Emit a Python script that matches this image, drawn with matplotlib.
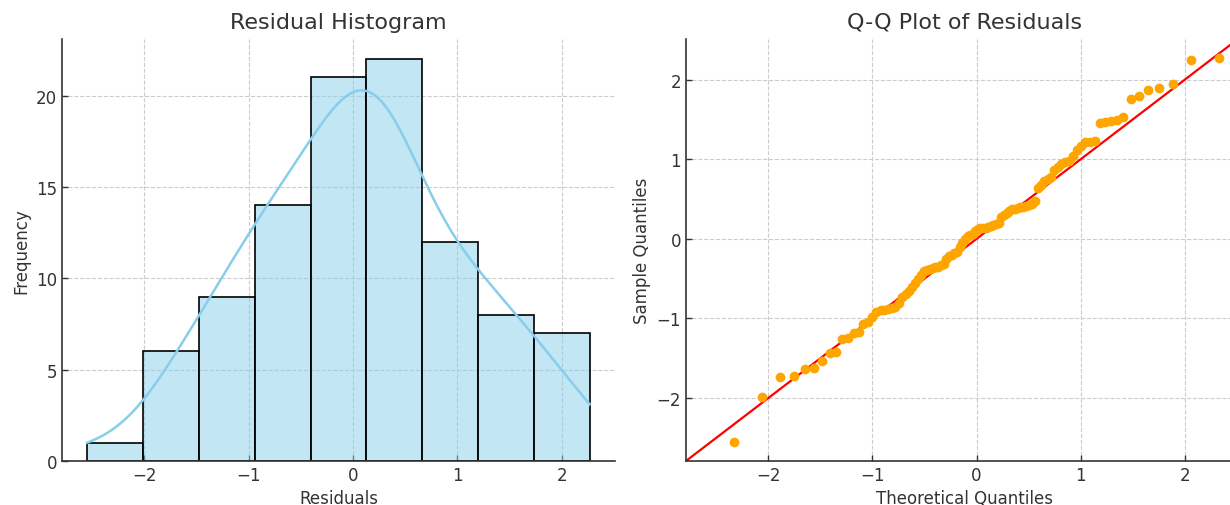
"""Residual diagnostics: histogram with KDE next to a normal Q-Q plot."""
from statistics import NormalDist

import matplotlib
matplotlib.use("Agg")
import matplotlib.pyplot as plt
import numpy as np
import seaborn as sns

_FG = "#333333"

# sorted residuals (100 points)
residuals = [
    -2.55,
    -1.99, -1.74, -1.72, -1.63, -1.62, -1.54,
    -1.43, -1.42, -1.26, -1.24, -1.18, -1.17, -1.07, -1.05, -0.98,
    -0.92, -0.90, -0.89, -0.88, -0.87, -0.85, -0.80, -0.73, -0.69, -0.66,
    -0.60, -0.55, -0.51, -0.45,
    -0.40, -0.39, -0.38, -0.37, -0.36, -0.35, -0.33, -0.31, -0.25, -0.22,
    -0.20, -0.18, -0.16, -0.10, -0.05, 0.00, 0.03, 0.05, 0.06, 0.10, 0.12,
    0.13, 0.14, 0.14, 0.15, 0.16, 0.17, 0.19, 0.20, 0.28, 0.30, 0.33,
    0.35, 0.37, 0.38, 0.39, 0.40, 0.40, 0.41, 0.42, 0.44, 0.47, 0.64,
    0.68, 0.72, 0.75, 0.78, 0.86, 0.90, 0.94, 0.97, 0.98, 1.04, 1.12, 1.17,
    1.21, 1.22, 1.23, 1.45, 1.47, 1.48, 1.49, 1.53,
    1.76, 1.79, 1.87, 1.89, 1.95, 2.24, 2.27,
]
n_bins = 9
hist_yticks = [0, 5, 10, 15, 20]
quant_ticks = [-2, -1, 0, 1, 2]

plt.rcParams.update({
    "font.family": "DejaVu Sans",
    "text.color": _FG, "axes.labelcolor": _FG,
    "xtick.color": _FG, "ytick.color": _FG,
    "axes.edgecolor": _FG, "axes.linewidth": 1.2,
})


def style(ax):
    ax.spines["top"].set_visible(False)
    ax.spines["right"].set_visible(False)
    ax.grid(True, linestyle="--", color="#cccccc", linewidth=0.8)
    ax.set_axisbelow(True)
    ax.tick_params(labelsize=12, direction="in", length=4, width=1)


def main():
    res = np.array(residuals)
    n = len(res)
    theo = np.array([NormalDist().inv_cdf(i / (n + 1)) for i in range(1, n + 1)])

    fig = plt.figure(figsize=(12.3, 5.06), dpi=100)
    ax1 = fig.add_axes([0.0504, 0.087, 0.4496, 0.834])
    ax2 = fig.add_axes([0.5577, 0.087, 0.4533, 0.834])

    # histogram + kde
    sns.histplot(res, bins=n_bins, kde=True, color="skyblue", alpha=0.5,
                 edgecolor="black", linewidth=1.2, ax=ax1,
                 kde_kws={"cut": 0}, line_kws={"linewidth": 1.8})
    style(ax1)
    ax1.set_yticks(hist_yticks)
    ax1.set_title("Residual Histogram", fontsize=16, pad=8)
    ax1.set_xlabel("Residuals", fontsize=12)
    ax1.set_ylabel("Frequency", fontsize=12)

    # q-q plot with 45 degree line
    ax2.scatter(theo, np.sort(res), s=36, color="orange", zorder=3)
    ax2.set_xlim(-2.79, 2.563)
    ax2.set_ylim(-2.79, 2.51)
    lo, hi = ax2.get_xlim()
    ax2.plot([lo, hi], [lo, hi], color="red", linewidth=1.6, zorder=2)
    style(ax2)
    ax2.set_xticks(quant_ticks)
    ax2.set_yticks(quant_ticks)
    ax2.set_title("Q-Q Plot of Residuals", fontsize=16, pad=8)
    ax2.set_xlabel("Theoretical Quantiles", fontsize=12)
    ax2.set_ylabel("Sample Quantiles", fontsize=12)

    fig.savefig("out.png")
    plt.close(fig)


if __name__ == "__main__":
    main()
